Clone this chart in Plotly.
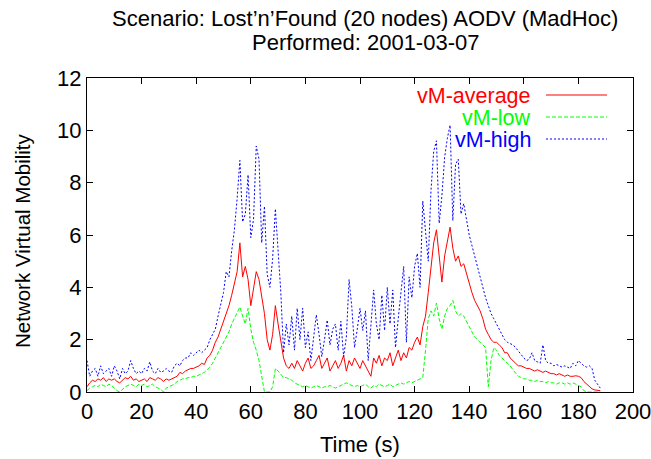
import plotly.graph_objects as go

time_s = list(range(0, 189))

vm_average = [
    0.2, 0.35, 0.45, 0.4, 0.5, 0.45, 0.55, 0.4, 0.5, 0.45,
    0.5, 0.4, 0.35, 0.45, 0.55, 0.5, 0.6, 0.45, 0.5, 0.4,
    0.45, 0.5, 0.4, 0.55, 0.5, 0.45, 0.55, 0.5, 0.4, 0.5,
    0.45, 0.5, 0.55, 0.6, 0.75, 0.7, 0.8, 0.85, 0.9, 0.9,
    0.95, 1.0, 1.1, 1.05, 1.3, 1.4, 1.6, 1.9, 2.1, 2.4,
    2.7, 3.0, 3.3, 3.7, 4.1, 4.6, 5.7, 4.4, 4.8, 4.3,
    3.3, 4.0, 4.6, 4.3, 3.6, 3.0, 2.0, 1.6, 2.2, 3.3,
    2.6, 1.9, 1.3, 1.0, 0.9, 1.1, 0.9, 1.2, 1.0, 0.8,
    1.1, 1.3, 0.9, 1.0, 1.2, 1.4, 0.9, 1.1, 1.3, 0.8,
    1.0, 1.2, 0.9, 1.1, 1.4, 0.8, 1.2, 1.0, 1.3, 1.1,
    0.9, 1.2, 1.0, 0.8, 0.6, 1.3, 1.1, 1.4, 1.0, 1.3,
    1.2, 1.5, 1.0, 1.3, 1.6, 1.2, 1.5, 1.3, 1.7, 1.6,
    1.9, 2.1, 1.8, 2.5, 2.9, 3.8, 4.7, 5.7, 6.2, 5.3,
    4.2, 5.2, 5.7, 6.3, 5.5, 5.0, 5.2, 4.8, 4.9, 4.5,
    4.1, 3.8, 3.5, 3.3, 3.1, 2.8, 2.4, 2.2, 2.0, 1.9,
    1.9, 1.8, 1.7, 1.5, 1.5, 1.3, 1.2, 1.1, 1.0, 1.0,
    0.95, 0.9, 0.9, 0.85, 0.8, 0.85, 0.8, 0.75, 0.8, 0.75,
    0.7, 0.7, 0.65, 0.7, 0.65, 0.6, 0.65, 0.6, 0.6, 0.62,
    0.6, 0.55, 0.4, 0.3, 0.2, 0.12, 0.08, 0.06, 0.05,
]

vm_low = [
    0.05, 0.15, 0.2, 0.25, 0.2, 0.3, 0.25, 0.2, 0.3, 0.25,
    0.15, 0.05, 0.0, 0.1, 0.2, 0.25, 0.3, 0.25, 0.2, 0.3,
    0.25, 0.3, 0.2, 0.25, 0.3, 0.2, 0.15, 0.1, 0.0, 0.15,
    0.2, 0.25, 0.3, 0.4, 0.45, 0.5, 0.5, 0.55, 0.55, 0.6,
    0.6, 0.65, 0.7, 0.75, 0.85, 0.95, 1.1, 1.3, 1.5, 1.7,
    1.9, 2.1, 2.3, 2.6, 2.8, 3.0, 3.25, 2.9, 2.6, 3.2,
    2.4, 1.9, 1.6, 1.2, 0.6, 0.0, 0.0, 0.0, 0.2, 0.9,
    0.8, 0.65, 0.55, 0.55, 0.5, 0.45, 0.35, 0.3, 0.25, 0.2,
    0.25, 0.2, 0.15, 0.2, 0.25, 0.2, 0.15, 0.2, 0.2, 0.25,
    0.2, 0.15, 0.2, 0.25, 0.3, 0.35, 0.3, 0.25, 0.2, 0.25,
    0.2, 0.25, 0.3, 0.2, 0.15, 0.25, 0.2, 0.3, 0.25, 0.2,
    0.25, 0.3, 0.2, 0.25, 0.3, 0.35, 0.3, 0.35, 0.4, 0.35,
    0.4, 0.45, 0.5, 0.55, 1.6, 2.8, 3.1, 2.9, 3.4, 2.8,
    2.4, 2.9, 3.2, 3.3, 3.5, 3.1, 2.9, 3.0, 2.9, 2.7,
    2.5, 2.3, 2.1, 2.0, 1.9, 1.8, 1.7, 0.2, 1.2, 1.7,
    1.6, 1.4, 1.3, 1.2, 1.1, 1.0, 0.85, 0.7, 0.6, 0.55,
    0.5, 0.5, 0.45, 0.45, 0.4, 0.45, 0.4, 0.4, 0.35, 0.4,
    0.35, 0.35, 0.3, 0.35, 0.35, 0.3, 0.35, 0.3, 0.35, 0.3,
    0.25, 0.2, 0.05, 0.0, 0.0, 0.0, 0.0, 0.0, 0.0,
]

vm_high = [
    1.2, 0.6, 0.8, 0.9, 0.6, 1.0, 0.7, 0.8, 0.9, 0.6,
    1.0, 0.8, 0.5, 0.9, 0.7, 0.8, 1.2, 0.9, 0.7, 0.8,
    0.7, 0.9, 0.8, 1.15, 0.8, 0.7, 0.9, 0.75, 0.8, 0.9,
    0.8, 0.75, 1.0, 1.1, 1.0, 1.2, 1.3, 1.3, 1.5, 1.4,
    1.5, 1.6, 1.5, 1.6, 1.7, 2.0, 2.2, 2.4, 2.9, 3.4,
    3.8, 4.6, 4.4, 5.4, 6.2, 7.4, 8.85, 6.5, 6.8, 8.3,
    5.9, 6.6, 9.4, 8.9, 5.7, 7.1, 4.5, 4.0, 5.1, 7.0,
    5.5, 3.8, 1.5, 2.6, 1.8, 2.9, 1.6, 3.2, 2.0, 3.2,
    1.7, 2.3, 1.2, 2.0, 2.95, 2.2, 1.35, 2.0, 2.75, 1.8,
    2.4, 2.6, 1.6, 2.7, 1.35, 2.1, 4.3, 3.25, 1.7, 2.4,
    3.2, 2.35, 3.1, 1.2, 2.5, 3.9, 2.6, 2.0, 3.7, 2.35,
    4.0, 2.6, 3.9, 1.7, 2.8, 3.9, 4.8, 1.9, 4.4, 3.6,
    4.8, 5.3, 4.0, 7.3, 6.2, 5.0, 7.7, 9.2, 9.6, 6.45,
    7.5, 8.97, 9.7, 10.2, 6.55, 8.7, 8.9, 6.8, 7.2, 6.6,
    6.0, 5.6, 5.2, 4.8, 4.3, 3.9, 3.6, 3.3, 3.0, 2.8,
    2.6, 2.4, 2.2, 2.0, 1.9, 1.85, 1.8, 1.7, 1.55, 1.45,
    1.3, 1.2, 1.25, 1.5, 1.2, 1.15, 1.1, 1.8, 1.2, 1.1,
    1.1, 1.0, 1.05, 1.0, 0.95, 1.0, 0.95, 0.9, 1.1, 1.0,
    1.2, 1.1, 1.0, 0.95, 1.0, 0.9, 0.45, 0.3, 0.15,
]

series_names = ["vM-average", "vM-low", "vM-high"]
series_colors = ["#ff0000", "#00ff00", "#0000ff"]
series_dash = ["solid", "4px,2px", "2px,2px"]
x_ticks = list(range(0, 201, 20))
y_ticks = list(range(0, 13, 2))

FONT = "Liberation Sans, Arial, Helvetica, sans-serif"
FS = 22

fig = go.Figure()
for name, vals, col, dash in zip(series_names, [vm_average, vm_low, vm_high],
                                 series_colors, series_dash):
    fig.add_trace(go.Scatter(x=time_s, y=vals, mode="lines", name=name,
                             line=dict(color=col, width=1, dash=dash),
                             showlegend=False))

W, H = 651, 459
L, R, T, B = 87, 18, 78, 67
pw, ph = W - L - R, H - T - B

def px(x):
    return (x - L) / pw

def py(y):
    return (H - B - y) / ph

annotations = [
    dict(text="Scenario: Lost\u2019n\u2019Found (20 nodes) AODV (MadHoc)", x=px(365), y=py(19)),
    dict(text="Performed: 2001-03-07", x=px(365), y=py(43)),
    dict(text="Time (s)", x=px(360), y=py(444)),
]
for a in annotations:
    a.update(xref="paper", yref="paper", showarrow=False, xanchor="center",
             yanchor="middle", font=dict(family=FONT, size=FS, color="black"))
annotations.append(dict(text="Network Virtual Mobility", x=px(22), y=py(241),
                        xref="paper", yref="paper", showarrow=False, textangle=-90,
                        xanchor="center", yanchor="middle",
                        font=dict(family=FONT, size=20.5, color="black")))

shapes = []
leg_y = [96, 118, 140]
for name, col, dash, yy in zip(series_names, series_colors, series_dash, leg_y):
    annotations.append(dict(text=name, x=px(533), y=py(yy), xref="paper", yref="paper",
                            showarrow=False, xanchor="right", yanchor="middle",
                            font=dict(family=FONT, size=21.5, color=col)))
    shapes.append(dict(type="line", xref="paper", yref="paper",
                       x0=px(546), x1=px(607), y0=py(yy - 1), y1=py(yy - 1),
                       line=dict(color=col, width=1, dash=dash)))

fig.update_layout(
    width=W, height=H,
    margin=dict(l=L, r=R, t=T, b=B, autoexpand=False),
    paper_bgcolor="white", plot_bgcolor="white",
    annotations=annotations, shapes=shapes,
    font=dict(family=FONT, size=FS, color="black"),
)
fig.update_xaxes(range=[0, 200], tickvals=x_ticks, ticks="inside", ticklen=6,
                 tickcolor="black", showline=True, linecolor="black", linewidth=1,
                 mirror="ticks", showgrid=False, zeroline=False, automargin=False,
                 ticklabeloverflow="allow",
                 tickfont=dict(family=FONT, size=FS, color="black"))
fig.update_yaxes(range=[0, 12], tickvals=y_ticks, ticks="inside", ticklen=6,
                 tickcolor="black", showline=True, linecolor="black", linewidth=1,
                 mirror="ticks", showgrid=False, zeroline=False, automargin=False,
                 ticklabeloverflow="allow",
                 tickfont=dict(family=FONT, size=FS, color="black"))

fig.write_html("out.html", config={"displayModeBar": False},
               post_script="document.body.style.margin='0';document.body.style.padding='0';")
